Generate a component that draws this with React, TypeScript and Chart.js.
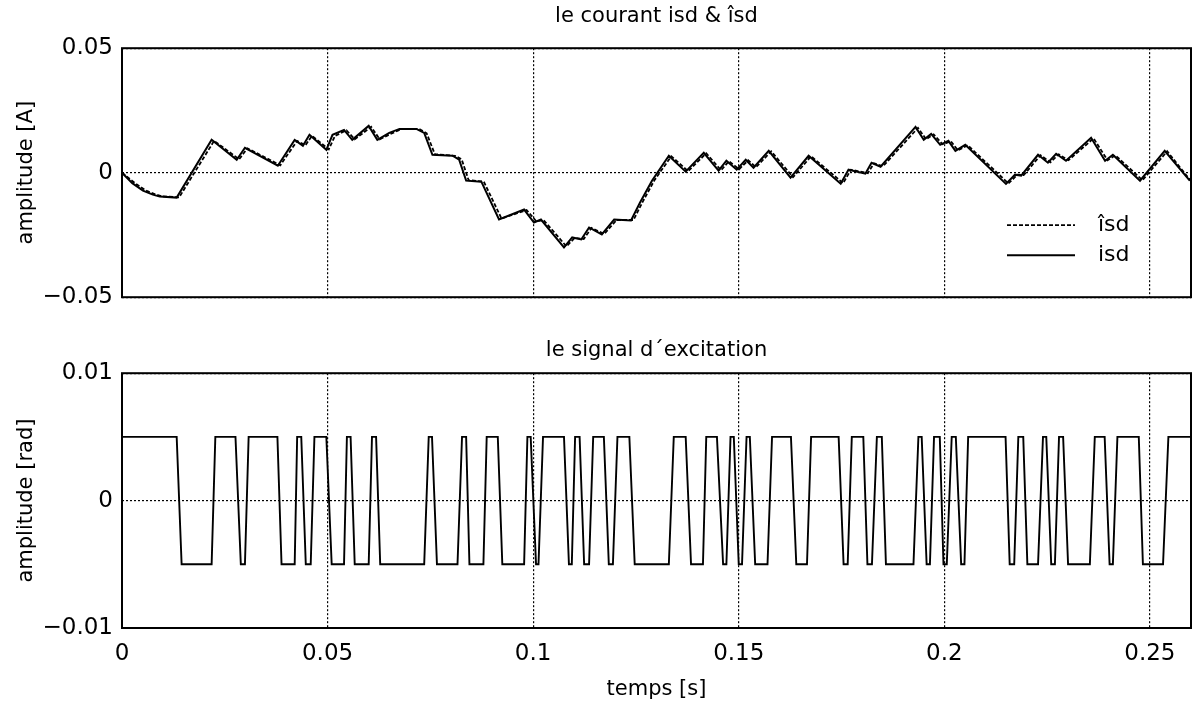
import { useEffect, useRef } from 'react';
import { Chart, registerables } from 'chart.js';

Chart.register(...registerables);

const FONT = '"DejaVu Sans", sans-serif';

// Time axis (seconds)
const xTicks = [0, 0.05, 0.1, 0.15, 0.2, 0.25];
const xTickLabels = ['0', '0.05', '0.1', '0.15', '0.2', '0.25'];

// Current isd (A)
const isdT = [0, 0.0025, 0.0051, 0.0075, 0.0092, 0.0133, 0.0218, 0.0279, 0.0299, 0.0379, 0.042, 0.044, 0.0456, 0.0497, 0.0512, 0.054, 0.056, 0.06, 0.0621, 0.065, 0.0675, 0.0716, 0.0735, 0.0755, 0.0804, 0.082, 0.0837, 0.0874, 0.0917, 0.0978, 0.1002, 0.1019, 0.1075, 0.1095, 0.1117, 0.1136, 0.1167, 0.1197, 0.1238, 0.126, 0.1289, 0.133, 0.1371, 0.1415, 0.1451, 0.147, 0.1495, 0.1517, 0.1536, 0.1573, 0.1626, 0.167, 0.1748, 0.1767, 0.1808, 0.1823, 0.1845, 0.193, 0.195, 0.1968, 0.199, 0.201, 0.2027, 0.2051, 0.215, 0.2172, 0.2187, 0.2228, 0.2252, 0.2272, 0.2296, 0.2357, 0.2391, 0.241, 0.2476, 0.2536, 0.2597];
const isdV = [0, -0.0042, -0.0072, -0.0088, -0.0096, -0.01, 0.0132, 0.0052, 0.01, 0.0028, 0.0132, 0.0108, 0.0152, 0.0092, 0.0152, 0.0172, 0.0132, 0.0188, 0.0132, 0.016, 0.0176, 0.0176, 0.016, 0.0072, 0.0068, 0.0052, -0.0032, -0.0036, -0.0188, -0.0148, -0.02, -0.0188, -0.03, -0.026, -0.0268, -0.022, -0.0248, -0.0188, -0.0192, -0.012, -0.0032, 0.0068, 0.0004, 0.008, 0.0008, 0.0048, 0.0012, 0.0052, 0.002, 0.0088, -0.002, 0.0068, -0.0044, 0.0012, -0.0004, 0.004, 0.0024, 0.0184, 0.0132, 0.0156, 0.0112, 0.0128, 0.0088, 0.0112, -0.0045, -0.0008, -0.0012, 0.0072, 0.004, 0.0076, 0.0048, 0.014, 0.0048, 0.0072, -0.0032, 0.0088, -0.0032];

// Estimated current îsd (A)
const isdHatT = [0, 0.0031, 0.0057, 0.0081, 0.0098, 0.0139, 0.0224, 0.0285, 0.0305, 0.0385, 0.0426, 0.0446, 0.0462, 0.0503, 0.0518, 0.0546, 0.0566, 0.0606, 0.0627, 0.0656, 0.0681, 0.0722, 0.0741, 0.0761, 0.081, 0.0826, 0.0843, 0.088, 0.0923, 0.0984, 0.1008, 0.1025, 0.1081, 0.1101, 0.1123, 0.1142, 0.1173, 0.1203, 0.1244, 0.1266, 0.1295, 0.1336, 0.1377, 0.1421, 0.1457, 0.1476, 0.1501, 0.1523, 0.1542, 0.1579, 0.1632, 0.1676, 0.1754, 0.1773, 0.1814, 0.1829, 0.1851, 0.1936, 0.1956, 0.1974, 0.1996, 0.2016, 0.2033, 0.2057, 0.2156, 0.2178, 0.2193, 0.2234, 0.2258, 0.2278, 0.2302, 0.2363, 0.2397, 0.2416, 0.2482, 0.2542, 0.26];
const isdHatV = [0, -0.0041, -0.0071, -0.0087, -0.0095, -0.0099, 0.0128, 0.0054, 0.0098, 0.003, 0.0128, 0.011, 0.0148, 0.0094, 0.0148, 0.017, 0.0134, 0.0184, 0.0134, 0.0158, 0.0176, 0.0176, 0.0158, 0.0074, 0.0068, 0.0054, -0.003, -0.0036, -0.0184, -0.015, -0.0196, -0.019, -0.0296, -0.0262, -0.0266, -0.0222, -0.0246, -0.019, -0.019, -0.0118, -0.003, 0.0066, 0.0006, 0.0078, 0.001, 0.0046, 0.0014, 0.005, 0.0022, 0.0086, -0.0018, 0.0066, -0.0042, 0.0012, -0.0002, 0.0038, 0.0026, 0.018, 0.0134, 0.0154, 0.0114, 0.0126, 0.009, 0.011, -0.0043, -0.0008, -0.001, 0.007, 0.0042, 0.0074, 0.005, 0.0138, 0.005, 0.007, -0.003, 0.0086, -0.0034];

// Excitation signal (rad): corner times and levels
const excT = [0, 0.0133, 0.0145, 0.0218, 0.0227, 0.0276, 0.0289, 0.0299, 0.0308, 0.0378, 0.0388, 0.042, 0.0426, 0.0436, 0.0447, 0.0459, 0.0468, 0.0497, 0.051, 0.054, 0.0547, 0.0556, 0.0566, 0.06, 0.0608, 0.0618, 0.0628, 0.0735, 0.0746, 0.0754, 0.0766, 0.0816, 0.0827, 0.0837, 0.0845, 0.0879, 0.0887, 0.0914, 0.0925, 0.0978, 0.0986, 0.0994, 0.1007, 0.1013, 0.1024, 0.1075, 0.1087, 0.1094, 0.1102, 0.1113, 0.1124, 0.1136, 0.1146, 0.1172, 0.1184, 0.1194, 0.1205, 0.1234, 0.1247, 0.133, 0.1342, 0.1371, 0.1384, 0.1413, 0.1421, 0.1447, 0.1462, 0.147, 0.148, 0.1488, 0.15, 0.1508, 0.1519, 0.1527, 0.154, 0.157, 0.1581, 0.1627, 0.164, 0.1666, 0.1676, 0.1743, 0.1755, 0.1765, 0.1775, 0.1803, 0.1813, 0.1824, 0.1836, 0.1848, 0.1858, 0.1925, 0.1937, 0.1945, 0.1957, 0.1965, 0.1975, 0.1989, 0.1998, 0.2006, 0.2018, 0.2028, 0.2041, 0.2049, 0.2058, 0.2149, 0.2159, 0.217, 0.218, 0.2192, 0.2202, 0.2228, 0.224, 0.2248, 0.226, 0.2269, 0.2279, 0.2289, 0.2301, 0.2354, 0.2366, 0.239, 0.2402, 0.241, 0.2421, 0.2473, 0.2483, 0.2532, 0.2545, 0.26];
const excV = [0.005, 0.005, -0.005, -0.005, 0.005, 0.005, -0.005, -0.005, 0.005, 0.005, -0.005, -0.005, 0.005, 0.005, -0.005, -0.005, 0.005, 0.005, -0.005, -0.005, 0.005, 0.005, -0.005, -0.005, 0.005, 0.005, -0.005, -0.005, 0.005, 0.005, -0.005, -0.005, 0.005, 0.005, -0.005, -0.005, 0.005, 0.005, -0.005, -0.005, 0.005, 0.005, -0.005, -0.005, 0.005, 0.005, -0.005, -0.005, 0.005, 0.005, -0.005, -0.005, 0.005, 0.005, -0.005, -0.005, 0.005, 0.005, -0.005, -0.005, 0.005, 0.005, -0.005, -0.005, 0.005, 0.005, -0.005, -0.005, 0.005, 0.005, -0.005, -0.005, 0.005, 0.005, -0.005, -0.005, 0.005, 0.005, -0.005, -0.005, 0.005, 0.005, -0.005, -0.005, 0.005, 0.005, -0.005, -0.005, 0.005, 0.005, -0.005, -0.005, 0.005, 0.005, -0.005, -0.005, 0.005, 0.005, -0.005, -0.005, 0.005, 0.005, -0.005, -0.005, 0.005, 0.005, -0.005, -0.005, 0.005, 0.005, -0.005, -0.005, 0.005, 0.005, -0.005, -0.005, 0.005, 0.005, -0.005, -0.005, 0.005, 0.005, -0.005, -0.005, 0.005, 0.005, -0.005, -0.005, 0.005, 0.005];

const topYTicks = [-0.05, 0, 0.05];
const topYLabels = ['−0.05', '0', '0.05'];
const botYTicks = [-0.01, 0, 0.01];
const botYLabels = ['−0.01', '0', '0.01'];

const toXY = (t: number[], v: number[]) => t.map((x, i) => ({ x, y: v[i] }));

// Black box around the plotting area
const framePlugin = {
  id: 'frame',
  afterDatasetsDraw(chart: any) {
    const { ctx, chartArea: a } = chart;
    ctx.save();
    ctx.strokeStyle = '#000';
    ctx.lineWidth = 2;
    ctx.setLineDash([]);
    ctx.strokeRect(a.left, a.top, a.right - a.left, a.bottom - a.top);
    ctx.restore();
  },
};

// Legend drawn inside the lower-right corner of the plot
const inlineLegend = {
  id: 'inlineLegend',
  afterDatasetsDraw(chart: any) {
    const { ctx, chartArea: a } = chart;
    chart.data.datasets.forEach((ds: any, i: number) => {
      const y = a.bottom - 72 + i * 30;
      ctx.save();
      ctx.strokeStyle = '#000';
      ctx.lineWidth = ds.borderWidth;
      ctx.setLineDash(ds.borderDash || []);
      ctx.beginPath();
      ctx.moveTo(a.right - 184, y);
      ctx.lineTo(a.right - 116, y);
      ctx.stroke();
      ctx.setLineDash([]);
      ctx.fillStyle = '#000';
      ctx.font = `22px ${FONT}`;
      ctx.textBaseline = 'middle';
      ctx.textAlign = 'left';
      ctx.fillText(ds.label, a.right - 93, y);
      ctx.restore();
    });
  },
};

const gridOpts = { color: '#000', lineWidth: 1.2, drawTicks: false };
const borderOpts = { display: false, dash: [2, 2] };

function xScale(showLabels: boolean, height: number) {
  return {
    type: 'linear',
    min: 0,
    max: 0.26,
    grid: gridOpts,
    border: borderOpts,
    afterBuildTicks: (s: any) => {
      s.ticks = xTicks.map((value) => ({ value }));
    },
    afterFit: (s: any) => {
      s.height = height;
    },
    ticks: {
      display: showLabels,
      padding: 12,
      color: '#000',
      font: { family: FONT, size: 23 },
      maxRotation: 0,
      callback: (_v: any, i: number) => xTickLabels[i],
    },
    title: showLabels
      ? {
          display: true,
          text: 'temps [s]',
          color: '#000',
          font: { family: FONT, size: 21 },
          padding: { top: 0, bottom: 5 },
        }
      : { display: false },
  };
}

function yScale(ticks: number[], labels: string[], title: string) {
  return {
    type: 'linear',
    min: ticks[0],
    max: ticks[ticks.length - 1],
    grid: gridOpts,
    border: borderOpts,
    afterBuildTicks: (s: any) => {
      s.ticks = ticks.map((value) => ({ value }));
    },
    afterFit: (s: any) => {
      s.width = 122;
    },
    ticks: {
      padding: 9,
      color: '#000',
      font: { family: FONT, size: 23 },
      callback: (_v: any, i: number) => labels[i],
    },
    title: {
      display: true,
      text: title,
      color: '#000',
      font: { family: FONT, size: 21 },
      padding: { top: 14, bottom: 0 },
    },
  };
}

export default function App() {
  const topRef = useRef<HTMLCanvasElement>(null);
  const botRef = useRef<HTMLCanvasElement>(null);

  useEffect(() => {
    const top = new Chart(topRef.current as HTMLCanvasElement, {
      type: 'line',
      data: {
        datasets: [
          {
            label: 'îsd',
            data: toXY(isdHatT, isdHatV),
            borderColor: '#000',
            borderWidth: 1.8,
            borderDash: [4, 2],
            pointRadius: 0,
            tension: 0,
          },
          {
            label: 'isd',
            data: toXY(isdT, isdV),
            borderColor: '#000',
            borderWidth: 2,
            pointRadius: 0,
            tension: 0,
          },
        ],
      },
      options: {
        animation: false,
        responsive: false,
        layout: { padding: { left: 0, right: 7, top: 0, bottom: 0 } },
        plugins: {
          legend: { display: false },
          tooltip: { enabled: false },
          title: {
            display: true,
            text: 'le courant isd & îsd',
            color: '#000',
            fullSize: false,
            font: { family: FONT, size: 21, weight: 'normal' },
            padding: { top: 4, bottom: 19 },
          },
        },
        scales: {
          x: xScale(false, 22),
          y: yScale(topYTicks, topYLabels, 'amplitude [A]'),
        } as any,
      },
      plugins: [framePlugin, inlineLegend],
    });

    const bot = new Chart(botRef.current as HTMLCanvasElement, {
      type: 'line',
      data: {
        datasets: [
          {
            label: 'excitation',
            data: toXY(excT, excV),
            borderColor: '#000',
            borderWidth: 1.9,
            pointRadius: 0,
            tension: 0,
          },
        ],
      },
      options: {
        animation: false,
        responsive: false,
        layout: { padding: { left: 0, right: 7, top: 0, bottom: 0 } },
        plugins: {
          legend: { display: false },
          tooltip: { enabled: false },
          title: {
            display: true,
            text: 'le signal d´excitation',
            color: '#000',
            fullSize: false,
            font: { family: FONT, size: 21, weight: 'normal' },
            padding: { top: 8, bottom: 10 },
          },
        },
        scales: {
          x: xScale(true, 79),
          y: yScale(botYTicks, botYLabels, 'amplitude [rad]'),
        } as any,
      },
      plugins: [framePlugin],
    });

    return () => {
      top.destroy();
      bot.destroy();
    };
  }, []);

  return (
    <div style={{ position: 'fixed', left: 0, top: 0, width: 1198, height: 707, background: '#fff' }}>
      <canvas
        ref={topRef}
        width={1198}
        height={320}
        style={{ position: 'absolute', left: 0, top: 0, width: 1198, height: 320 }}
      />
      <canvas
        ref={botRef}
        width={1198}
        height={377}
        style={{ position: 'absolute', left: 0, top: 330, width: 1198, height: 377 }}
      />
    </div>
  );
}
